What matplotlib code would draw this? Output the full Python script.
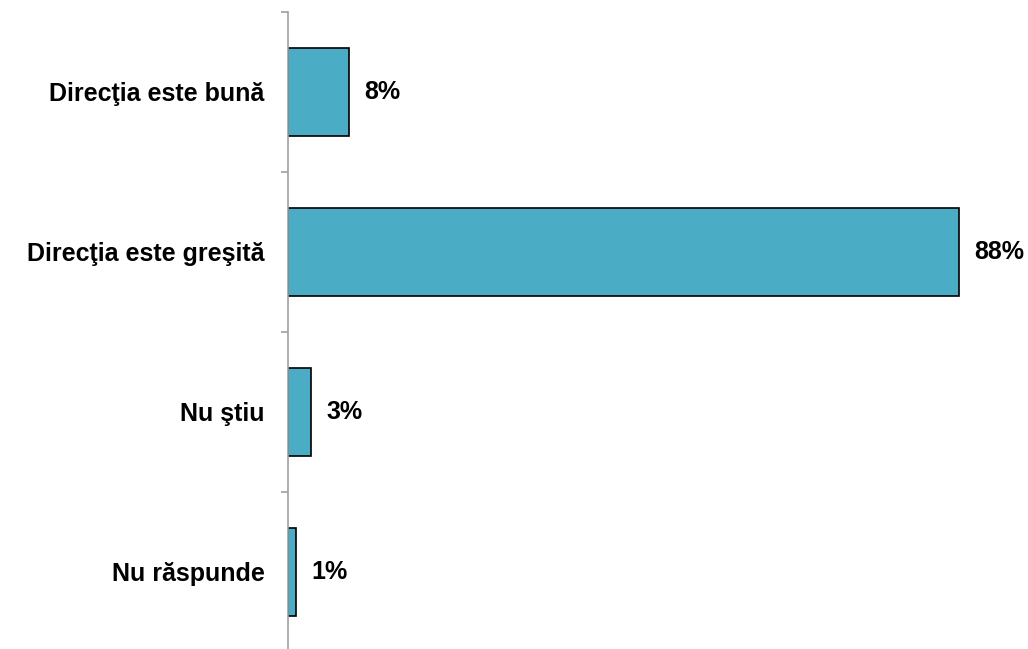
import matplotlib
matplotlib.use("Agg")
import matplotlib.pyplot as plt

categories = ["Direcţia este bună", "Direcţia este greşită", "Nu ştiu", "Nu răspunde"]
values = [8, 88, 3, 1]
value_labels = ["8%", "88%", "3%", "1%"]

plt.rcParams['font.family'] = ['Liberation Sans', 'DejaVu Sans']

fig = plt.figure(figsize=(10.28, 6.49), dpi=100)
ax = fig.add_axes([288 / 1028, -3 / 649, 724 / 1028, 640 / 649])

pos = list(range(len(categories)))
bars = ax.barh(pos, values, height=0.55, color='#4BACC6', edgecolor='black', linewidth=1.2)

for rect, lab in zip(bars, value_labels):
    ax.annotate(lab, (rect.get_width(), rect.get_y() + rect.get_height() / 2),
                xytext=(11, 0), textcoords='offset points', ha='left', va='center',
                fontsize=18, fontweight='bold')

ax.set_xlim(0, 95)
ax.set_ylim(3.5, -0.5)
ax.set_yticks(pos)
ax.set_yticklabels(categories, fontsize=18, fontweight='bold')
ax.tick_params(axis='y', which='major', length=0, pad=17)
ax.set_yticks([-0.5, 0.5, 1.5, 2.5, 3.5], minor=True)
ax.tick_params(axis='y', which='minor', length=5, color='#a0a0a0', width=1.2)
ax.set_xticks([])

for s in ['top', 'right', 'bottom']:
    ax.spines[s].set_visible(False)
ax.spines['left'].set_color('#a0a0a0')
ax.spines['left'].set_linewidth(1.2)

fig.savefig("out.png", dpi=100)
